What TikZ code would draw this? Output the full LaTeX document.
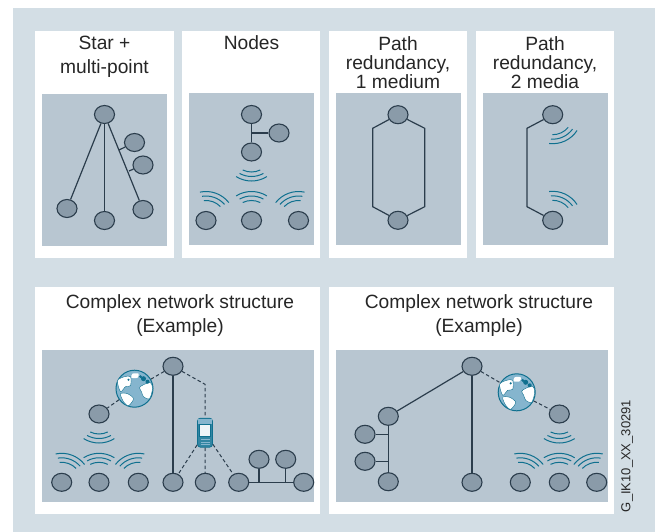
\documentclass[tikz,border=0pt]{standalone}
\usepackage{fontspec}
\setmainfont{Liberation Sans}
\usetikzlibrary{shapes.geometric}

\definecolor{bgblue}{HTML}{D3DEE5}
\definecolor{panelgrey}{HTML}{B8C6D1}
\definecolor{devfill}{HTML}{8A9BA9}
\definecolor{devline}{HTML}{2B3D4C}
\definecolor{wavecol}{HTML}{0F708F}
\definecolor{globefill}{HTML}{85B5CE}

\tikzset{
	dev/.style = {ellipse,draw=devline,fill=devfill,line width=1.1pt,minimum width=20pt,minimum height=18pt,inner sep=0pt},
	conn/.style = {draw=devline,line width=1.2pt},
	dlink/.style = {draw=devline,line width=1pt,dash pattern=on 3.5pt off 2.5pt},
	wave/.style = {draw=wavecol,line width=1pt},
	panel/.style = {fill=white},
	inset/.style = {fill=panelgrey},
	title/.style = {align=center,text=black!85,inner sep=0pt},
	twoline/.style = {title,font=\fontsize{19.2}{23.5}\selectfont},
	threeline/.style = {title,font=\fontsize{19.2}{19}\selectfont},
	globe/.style = {circle,draw=wavecol,fill=globefill,line width=1pt,minimum size=37pt,inner sep=0pt},
	phone/.style = {rectangle,rounded corners=3pt,draw=wavecol,fill=wavecol!70!globefill,line width=0.8pt,minimum width=15pt,minimum height=29pt,inner sep=0pt},
	waves/.pic = {
		\foreach \r/\a in {20/26,24.5/29,29/32}{
			\draw[wave] (-\a:\r) arc (-\a:\a:\r);
		}
	},
	lands/.pic = {
		\fill[white,draw=wavecol,line width=0.4pt] plot[smooth cycle] coordinates {(-17,8) (-10,12) (-4,12) (-4,3) (-9,2) (-14,-3)};
		\fill[white,draw=wavecol,line width=0.4pt] plot[smooth cycle] coordinates {(-14,-5) (-7,-5) (-1,-10) (-6,-17) (-11,-13)};
		\fill[white,draw=wavecol,line width=0.4pt] plot[smooth cycle] coordinates {(5,1) (9,4) (16,6) (18,0) (15,-10) (9,-8) (7,-3)};
		\fill[white] plot[smooth cycle] coordinates {(-2,15) (4,15) (3,11) (-3,11)};
		\fill[wavecol] (9,10) circle (2.5pt) (13,7) circle (2pt) (6,12) circle (1.5pt) (-6,9) circle (1.2pt);
	},
	handset/.pic = {
		\fill[globefill] (-7,14) rectangle (7,8.3);
		\fill[white!85!globefill,draw=wavecol,line width=0.4pt] (-5.5,8.3) rectangle (5.5,-3.7);
		\foreach \k in {-7,-9.5,-12}{
			\draw[globefill,line width=0.5pt] (-4.5,\k) -- (4.5,\k);
		}
	}
}

\begin{document}
\begin{tikzpicture}[x=1pt,y=1pt,yscale=-1]
	\useasboundingbox (0,0) rectangle (655,532);
	\fill[bgblue] (13,8) rectangle (655,532);

	\fill[panel] (35,31) rectangle (174,258);
	\fill[panel] (182,31) rectangle (320,258);
	\fill[panel] (329,31) rectangle (467,258);
	\fill[panel] (476,31) rectangle (614,258);
	\fill[panel] (35,287) rectangle (320,514);
	\fill[panel] (329,287) rectangle (614,514);

	\fill[inset] (42,94) rectangle (167,246);
	\fill[inset] (189,93) rectangle (314,245);
	\fill[inset] (336,93) rectangle (461,245);
	\fill[inset] (483,93) rectangle (608,245);
	\fill[inset] (42,350) rectangle (314,502);
	\fill[inset] (336,350) rectangle (608,502);

	\node[twoline] (titleStar) at (104.5,57) {Star +\\multi-point};
	\node[twoline] (titleNodes) at (251.5,43) {Nodes};
	\node[threeline] (titleOne) at (398,63) {Path\\redundancy,\\1 medium};
	\node[threeline] (titleTwo) at (545,63) {Path\\redundancy,\\2 media};
	\node[twoline] (titleLeft) at (180,315.5) {Complex network structure\\(Example)};
	\node[twoline] (titleRight) at (479,315.5) {Complex network structure\\(Example)};
	\node[rotate=90,font=\fontsize{13}{15}\selectfont,text=black!85,inner sep=0pt] (code) at (627,456) {G\_IK10\_XX\_30291};

	\node[dev] (starTop) at (104.5,114.5) {};
	\node[dev] (starLeft) at (67,208.5) {};
	\node[dev] (starMid) at (104.5,220.5) {};
	\node[dev] (starRight) at (143,209.5) {};
	\node[dev] (starA) at (134.5,142.5) {};
	\node[dev] (starB) at (143,165) {};
	\coordinate (tapA) at (119,150);
	\coordinate (tapB) at (129,171);
	\draw[conn] (starTop) -- (starLeft);
	\draw[conn] (starTop) -- (starMid);
	\draw[conn] (starTop) -- (starRight);
	\draw[conn] (tapA) -- (starA);
	\draw[conn] (tapB) -- (starB);

	\node[dev] (nodTop) at (251.5,114.5) {};
	\node[dev] (nodSide) at (279,133) {};
	\node[dev] (nodLow) at (251.5,152) {};
	\node[dev] (nodA) at (206,220.5) {};
	\node[dev] (nodB) at (251.5,220.5) {};
	\node[dev] (nodC) at (298.5,220.5) {};
	\coordinate (nodTap) at (251.5,133);
	\draw[conn] (nodTop) -- (nodLow);
	\draw[conn] (nodTap) -- (nodSide);
	\pic[rotate=270] at (nodLow) {waves};
	\pic[rotate=70] at (nodA) {waves};
	\pic[rotate=90] at (nodB) {waves};
	\pic[rotate=110] at (nodC) {waves};

	\node[dev] (oneTop) at (398,114.7) {};
	\node[dev] (oneLow) at (398,220.3) {};
	\draw[conn] (oneTop) -- (372.7,128.3) -- (372.7,206.7) -- (oneLow);
	\draw[conn] (oneTop) -- (424.7,128.3) -- (424.7,206.7) -- (oneLow);

	\node[dev] (twoTop) at (552.7,114.7) {};
	\node[dev] (twoLow) at (552.7,220.3) {};
	\draw[conn] (twoTop) -- (527,128.3) -- (527,206.7) -- (twoLow);
	\pic[rotate=295] at (twoTop) {waves};
	\pic[rotate=65] at (twoLow) {waves};

	\node[dev] (lfTop) at (173,366.3) {};
	\node[globe] (lfGlobe) at (134.5,388.7) {};
	\pic at (lfGlobe) {lands};
	\node[dev] (lfGate) at (99,414) {};
	\node[phone] (lfPhone) at (205,432.7) {};
	\pic at (lfPhone) {handset};
	\node[dev] (lfA) at (61.7,482.3) {};
	\node[dev] (lfB) at (99,482.3) {};
	\node[dev] (lfC) at (138.3,482.3) {};
	\node[dev] (lfD) at (173,482.3) {};
	\node[dev] (lfE) at (205.3,482.3) {};
	\node[dev] (lfF) at (238.7,482.3) {};
	\node[dev] (lfG) at (303.7,482.3) {};
	\node[dev] (lfH) at (259,459.3) {};
	\node[dev] (lfI) at (285.7,459.3) {};
	\coordinate (lfBend) at (205,384.3);
	\coordinate (lfTapH) at (259,482.3);
	\coordinate (lfTapI) at (285.7,482.3);
	\draw[dlink] (lfTop) -- (lfGlobe);
	\draw[dlink] (lfGlobe) -- (lfGate);
	\draw[dlink] (lfTop) -- (lfBend) -- (lfPhone);
	\draw[dlink] (lfPhone) -- (lfD);
	\draw[dlink] (lfPhone) -- (lfE);
	\draw[dlink] (lfPhone) -- (lfF);
	\draw[conn] (lfTop) -- (lfD);
	\draw[conn] (lfF) -- (lfG);
	\draw[conn] (lfH) -- (lfTapH);
	\draw[conn] (lfI) -- (lfTapI);
	\pic[rotate=270] at (lfGate) {waves};
	\pic[rotate=70] at (lfA) {waves};
	\pic[rotate=90] at (lfB) {waves};
	\pic[rotate=110] at (lfC) {waves};

	\node[dev] (rtTop) at (472,366.3) {};
	\node[globe] (rtGlobe) at (516.7,392.3) {};
	\pic at (rtGlobe) {lands};
	\node[dev] (rtGate) at (559.3,414) {};
	\node[dev] (rtUp) at (388.3,416.3) {};
	\node[dev] (rtS) at (365,434.3) {};
	\node[dev] (rtT) at (365,461.3) {};
	\node[dev] (rtLow) at (388.3,481.7) {};
	\node[dev] (rtMid) at (472,482.3) {};
	\node[dev] (rtA) at (520.3,482.3) {};
	\node[dev] (rtB) at (559.3,482.3) {};
	\node[dev] (rtC) at (596.7,482.3) {};
	\coordinate (rtTapS) at (388.3,434.3);
	\coordinate (rtTapT) at (388.3,461.3);
	\draw[conn] (rtTop) -- (rtUp);
	\draw[conn] (rtTop) -- (rtMid);
	\draw[conn] (rtUp) -- (rtLow);
	\draw[conn] (rtS) -- (rtTapS);
	\draw[conn] (rtT) -- (rtTapT);
	\draw[dlink] (rtTop) -- (rtGlobe);
	\draw[dlink] (rtGlobe) -- (rtGate);
	\pic[rotate=270] at (rtGate) {waves};
	\pic[rotate=70] at (rtA) {waves};
	\pic[rotate=90] at (rtB) {waves};
	\pic[rotate=110] at (rtC) {waves};
\end{tikzpicture}
\end{document}
